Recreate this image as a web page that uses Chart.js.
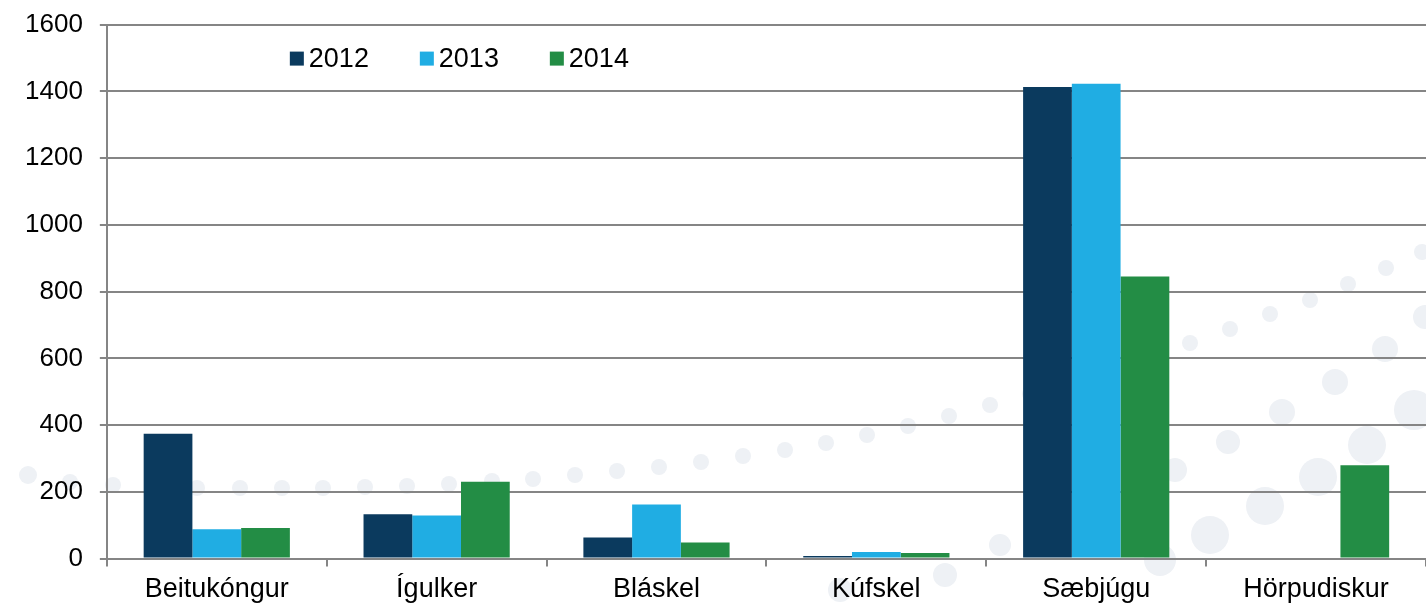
<!DOCTYPE html>
<html>
<head>
<meta charset="utf-8">
<script src="https://cdn.jsdelivr.net/npm/chart.js@4/dist/chart.umd.min.js"></script>
<style>
  html, body { margin: 0; padding: 0; background: #fff; }
  #wrap { width: 1426px; height: 603px; }
</style>
</head>
<body>
<div id="wrap"><canvas id="chart"></canvas></div>
<script>
const categories = ["Beitukóngur", "Ígulker", "Bláskel", "Kúfskel", "Sæbjúgu", "Hörpudiskur"];
const years = ["2012", "2013", "2014"];
const values2012 = [374, 133, 63, 8, 1413, 0];
const values2013 = [88, 129, 162, 20, 1423, 0];
const values2014 = [92, 230, 48, 17, 845, 280];
const yTicks = [0, 200, 400, 600, 800, 1000, 1200, 1400, 1600];
const colors = ["#0b3a5e", "#20ade3", "#238d45"];

const FONT = "'Liberation Sans', Arial, sans-serif";

// faint background dots, decoration only
const dots = [
  [28,475,9],[70,482,8],[113,485,8],[155,487,8],[197,488,8],[240,488,8],[282,488,8],[323,488,8],
  [365,487,8],[407,486,8],[449,484,8],[492,481,8],[533,479,8],[575,475,8],[617,471,8],[659,467,8],
  [701,462,8],[743,456,8],[785,450,8],[826,443,8],[867,435,8],[908,426,8],[949,416,8],[990,405,8],
  [1030,394,8],[1190,343,8],[1230,329,8],[1270,314,8],[1310,300,8],[1348,284,8],[1386,268,8],[1422,252,8],
  [1000,545,11],[1050,515,11],[1100,490,11],[1175,470,12],[1228,442,12],[1282,412,13],[1335,382,13],[1385,349,13],[1425,317,12],
  [1210,535,19],[1265,506,19],[1318,477,19],[1367,445,19],[1414,410,20],
  [840,590,12],[945,575,12],[1160,560,16]
];

const bgDots = {
  id: "bgDots",
  beforeDraw(chart) {
    const ctx = chart.ctx;
    ctx.save();
    ctx.fillStyle = "#eef1f5";
    dots.forEach(d => {
      ctx.beginPath();
      ctx.arc(d[0], d[1], d[2], 0, Math.PI * 2);
      ctx.fill();
    });
    ctx.restore();
  }
};

const innerLegend = {
  id: "innerLegend",
  afterDraw(chart) {
    const ctx = chart.ctx;
    const area = chart.chartArea;
    let x = area.left + 183;
    const y = area.top + 34;
    ctx.save();
    ctx.font = "27px " + FONT;
    ctx.textBaseline = "middle";
    chart.data.datasets.forEach(ds => {
      ctx.fillStyle = ds.backgroundColor;
      ctx.fillRect(x, y - 7, 14, 14);
      ctx.fillStyle = "#000";
      ctx.fillText(ds.label, x + 19, y + 1);
      x += 130;
    });
    ctx.restore();
  }
};

new Chart(document.getElementById("chart"), {
  type: "bar",
  data: {
    labels: categories,
    datasets: [
      { label: years[0], data: values2012, backgroundColor: colors[0] },
      { label: years[1], data: values2013, backgroundColor: colors[1] },
      { label: years[2], data: values2014, backgroundColor: colors[2] }
    ]
  },
  options: {
    responsive: true,
    maintainAspectRatio: false,
    animation: false,
    layout: { padding: { top: 0, right: 0, left: 8, bottom: -10 } },
    datasets: { bar: { barPercentage: 1.0, categoryPercentage: 0.665 } },
    plugins: { legend: { display: false }, tooltip: { enabled: false } },
    scales: {
      x: {
        grid: { offset: true, drawOnChartArea: false, color: "#858585", lineWidth: 2, tickLength: 8 },
        border: { color: "#858585", width: 2 },
        ticks: { color: "#000", font: { family: FONT, size: 27 }, padding: 7 }
      },
      y: {
        min: 0,
        max: 1600,
        afterBuildTicks: axis => { axis.ticks = yTicks.map(v => ({ value: v })); },
        afterFit: axis => { axis.paddingTop = Math.max(0, axis.paddingTop - 8); },
        grid: { color: "#858585", lineWidth: 2, tickLength: 7 },
        border: { color: "#858585", width: 2 },
        ticks: { color: "#000", font: { family: FONT, size: 26 }, padding: 17, callback: v => String(v) }
      }
    }
  },
  plugins: [bgDots, innerLegend]
});
</script>
</body>
</html>
